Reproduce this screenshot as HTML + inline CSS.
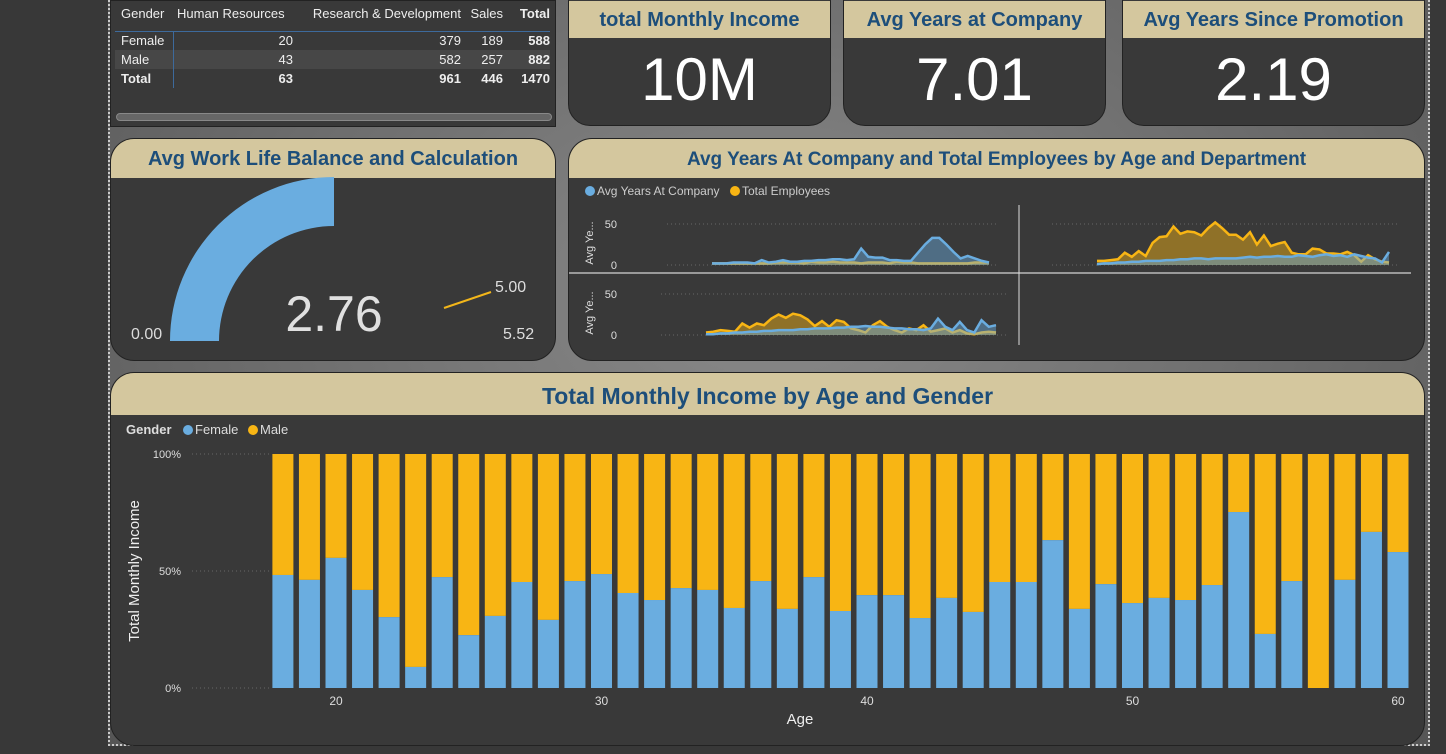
<!DOCTYPE html>
<html><head><meta charset="utf-8">
<style>
*{box-sizing:border-box;margin:0;padding:0}
body{width:1446px;height:754px;overflow:hidden;background:#383838;font-family:"Liberation Sans",sans-serif;position:relative}
#canvas{position:absolute;left:108px;top:0;width:1322px;height:746px;background:radial-gradient(ellipse at 50% 40%,#8a8a8a 0%,#6a6a6a 60%,#555 100%);border-left:2px dotted #ccc;border-right:2px dotted #ccc;border-bottom:2px dotted #ccc}
.card{position:absolute;background:#393939;border:1px solid #222;overflow:hidden}
.hdr{position:absolute;left:0;right:0;top:0;background:#d4c79e;color:#1d4e7a;font-weight:bold;text-align:center}
.kpi{border-radius:22px}
.kpi .hdr{height:37px;line-height:38px;font-size:20px}
.kpi .val{position:absolute;left:0;right:0;top:44px;text-align:center;color:#fff;font-size:60px}
table{border-collapse:collapse;color:#eee;font-size:13px}
td{white-space:nowrap}
</style></head><body>
<div id="canvas"></div>

<div class="card" style="left:110px;top:0;width:446px;height:127px;border-radius:0">
  <table style="position:absolute;left:4px;top:0px">
    <tr style="height:24px"><td style="padding:0 6px;width:58px">Gender</td><td style="width:120px;padding-left:4px">Human Resources</td><td style="width:168px;text-align:right">Research &amp; Development</td><td style="width:42px;text-align:right">Sales</td><td style="font-weight:bold;text-align:right;width:47px">Total</td></tr>
    <tr style="height:6px;border-bottom:1px solid #3d6a9c"><td colspan="5"></td></tr>
    <tr style="height:19px"><td style="padding:0 6px;border-right:1px solid #3d6a9c">Female</td><td style="text-align:right">20</td><td style="text-align:right">379</td><td style="text-align:right">189</td><td style="text-align:right;font-weight:bold">588</td></tr>
    <tr style="height:19px;background:#474747"><td style="padding:0 6px;border-right:1px solid #3d6a9c">Male</td><td style="text-align:right">43</td><td style="text-align:right">582</td><td style="text-align:right">257</td><td style="text-align:right;font-weight:bold">882</td></tr>
    <tr style="height:19px;font-weight:bold"><td style="padding:0 6px;border-right:1px solid #3d6a9c">Total</td><td style="text-align:right">63</td><td style="text-align:right">961</td><td style="text-align:right">446</td><td style="text-align:right">1470</td></tr>
  </table>
  <div style="position:absolute;left:5px;top:112px;width:436px;height:8px;border-radius:4px;background:#666;border:1px solid #888"></div>
</div>

<div class="card kpi" style="left:568px;top:-20px;width:263px;height:146px"><div class="hdr" style="top:20px">total Monthly Income</div><div class="val" style="top:64px">10M</div></div>
<div class="card kpi" style="left:843px;top:-20px;width:263px;height:146px"><div class="hdr" style="top:20px">Avg Years at Company</div><div class="val" style="top:64px">7.01</div></div>
<div class="card kpi" style="left:1122px;top:-20px;width:303px;height:146px"><div class="hdr" style="top:20px">Avg Years Since Promotion</div><div class="val" style="top:64px">2.19</div></div>

<div class="card" style="left:110px;top:138px;width:446px;height:223px;border-radius:24px">
  <div class="hdr" style="height:39px;line-height:41px;font-size:20px">Avg Work Life Balance and Calculation</div>
  <svg width="446" height="223" style="position:absolute;left:0;top:0">
    <path d="M59,202 A164,164 0 0 1 223,38 L223,87 A115,115 0 0 0 108,202 Z" fill="#6aade0"/>
    <line x1="333" y1="169" x2="380" y2="153" stroke="#f2b61a" stroke-width="2"/>
    <text x="223" y="192" fill="#e0e0e0" font-size="50" text-anchor="middle" font-family="Liberation Sans">2.76</text>
    <text x="20" y="200" fill="#ddd" font-size="16">0.00</text>
    <text x="384" y="153" fill="#ddd" font-size="16">5.00</text>
    <text x="392" y="200" fill="#ddd" font-size="16">5.52</text>
  </svg>
</div>

<div class="card" style="left:568px;top:138px;width:857px;height:223px;border-radius:24px">
  <div class="hdr" style="height:39px;line-height:42px;font-size:19px">Avg Years At Company and Total Employees by Age and Department</div>
  <svg id="area" width="857" height="223" style="position:absolute;left:0;top:0"></svg>
</div>

<div class="card" style="left:110px;top:372px;width:1315px;height:374px;border-radius:24px">
  <div class="hdr" style="height:42px;line-height:46px;font-size:23px">Total Monthly Income by Age and Gender</div>
</div>
<svg id="bars" width="1446" height="754" style="position:absolute;left:0;top:0"></svg>

<script>
// ===== Bar chart data =====
const ages = [];
for (let a = 18; a <= 60; a++) ages.push(a);
const femalePct = [48.3,46.2,55.6,41.9,30.3,9.0,47.4,22.6,30.8,45.3,29.1,45.7,48.7,40.6,37.6,42.7,41.9,34.2,45.7,33.8,47.4,32.9,39.7,39.7,29.9,38.5,32.5,45.3,45.3,63.2,33.8,44.4,36.3,38.5,37.6,44.0,75.2,23.1,45.7,0,46.2,66.7,58.1];
const xTicks = [20,30,40,50,60];
const yTicks = [0,50,100];

// ===== Area chart data (3 departments) =====
const hrYears = [2,2,2,3,3,3,2,6,3,4,6,4,4,5,5,6,6,7,7,6,7,20,10,9,9,6,6,5,5,15,25,33,33,25,16,8,11,8,5,3];
const hrEmp = [2,2,2,2,2,2,2,2,2,3,3,3,3,2,4,3,3,4,3,3,3,2,3,3,3,2,4,3,3,2,2,2,2,2,2,2,2,3,3,3];
const rdYears = [1,2,2,3,3,4,4,5,5,5,6,6,7,7,8,8,7,8,8,8,8,9,10,9,10,10,11,10,10,12,11,10,12,13,11,12,10,13,11,9,8,3,16];
const rdEmp = [5,5,6,7,15,10,17,11,27,34,35,47,38,41,40,36,45,52,45,37,37,31,40,25,36,23,26,28,15,13,13,20,19,14,14,13,16,12,4,12,7,4,3];
const saYears = [1,1,2,2,3,3,4,4,5,5,6,6,6,7,7,8,8,8,9,9,10,10,11,10,10,9,8,8,7,7,6,8,20,10,6,16,6,3,18,10,12];
const saEmp = [3,4,6,5,4,14,9,14,12,20,25,21,26,24,19,11,17,10,18,16,8,6,3,12,17,10,6,3,8,6,12,4,6,8,3,6,2,1,3,4,3];

const NS = 'http://www.w3.org/2000/svg';
function mk(svg, tag, attrs) {
  const e = document.createElementNS(NS, tag);
  for (const k in attrs) e.setAttribute(k, attrs[k]);
  svg.appendChild(e);
  return e;
}

// ----- Bars -----
const bs = document.getElementById('bars');
const xPos = a => 336 + (a - 20) * 26.55;
const yPos = p => 688 - p * 2.34;
let t;
t = mk(bs, 'text', {x: 126, y: 434, fill: '#ddd', 'font-size': 13, 'font-weight': 'bold'}); t.textContent = 'Gender';
 
let c = mk(bs, 'circle', {cx: 188, cy: 430, r: 5, fill: '#6aade0'});
 
t = mk(bs, 'text', {x: 195, y: 434, fill: '#ddd', 'font-size': 13}); t.textContent = 'Female';
 
c = mk(bs, 'circle', {cx: 253, cy: 430, r: 5, fill: '#f8b514'});
 
t = mk(bs, 'text', {x: 260, y: 434, fill: '#ddd', 'font-size': 13}); t.textContent = 'Male';
 
yTicks.forEach(v => {
  const l = mk(bs, 'line', {x1: 192, x2: 270, y1: yPos(v), y2: yPos(v), stroke: '#666', 'stroke-dasharray': '1,3'});
   
  const tt = mk(bs, 'text', {x: 181, y: yPos(v) + 4, fill: '#ddd', 'font-size': 11, 'text-anchor': 'end'});
  tt.textContent = v + '%';
   
});
t = mk(bs, 'text', {x: 0, y: 0, fill: '#eee', 'font-size': 15, 'text-anchor': 'middle', transform: 'translate(139,571) rotate(-90)'});
t.textContent = 'Total Monthly Income';
 
ages.forEach((a, i) => {
  const x = xPos(a) - 10.5, f = femalePct[i];
  const m = mk(bs, 'rect', {x: x, y: yPos(100), width: 21, height: yPos(f) - yPos(100), fill: '#f8b514'});
   
  const fr = mk(bs, 'rect', {x: x, y: yPos(f), width: 21, height: yPos(0) - yPos(f), fill: '#6aade0'});
   
});
xTicks.forEach(v => {
  const tt = mk(bs, 'text', {x: xPos(v), y: 705, fill: '#ddd', 'font-size': 12, 'text-anchor': 'middle'});
  tt.textContent = v;
   
});
t = mk(bs, 'text', {x: 800, y: 724, fill: '#eee', 'font-size': 15, 'text-anchor': 'middle'}); t.textContent = 'Age';
 

// ----- Area small multiples -----
const as = document.getElementById('area');
c = mk(as, 'circle', {cx: 21, cy: 52, r: 5, fill: '#6aade0'});
 
t = mk(as, 'text', {x: 28, y: 56, fill: '#ccc', 'font-size': 12}); t.textContent = 'Avg Years At Company';
 
c = mk(as, 'circle', {cx: 166, cy: 52, r: 5, fill: '#f8b514'});
 
t = mk(as, 'text', {x: 173, y: 56, fill: '#ccc', 'font-size': 12}); t.textContent = 'Total Employees';
 
let ln = mk(as, 'line', {x1: 0, x2: 842, y1: 134, y2: 134, stroke: '#bbb', 'stroke-width': 1.5});
 
ln = mk(as, 'line', {x1: 450, x2: 450, y1: 66, y2: 206, stroke: '#ddd', 'stroke-width': 1});
 

function panel(name, x0, x1, y0, yearsArr, empArr, showAxis) {
  const sy = v => y0 - v * 0.82;
  if (showAxis) {
    [0, 50].forEach(v => {
      const tt = mk(as, 'text', {x: 48, y: sy(v) + 4, fill: '#ddd', 'font-size': 11, 'text-anchor': 'end'});
      tt.textContent = v;
       
    });
    const at = mk(as, 'text', {x: 0, y: 0, fill: '#ddd', 'font-size': 11, 'text-anchor': 'middle', transform: 'translate(24,' + (y0 - 22) + ') rotate(-90)'});
    at.textContent = 'Avg Ye...';
     
  }
  [0, 50].forEach(v => {
    const g = mk(as, 'line', {x1: x0 - 45, x2: x1 + 10, y1: sy(v), y2: sy(v), stroke: '#666', 'stroke-dasharray': '1,3'});
     
  });
  [[empArr, '#f8b514', 'employees'], [yearsArr, '#6aade0', 'years']].forEach(([arr, col, lab]) => {
    const n = arr.length;
    const px = i => x0 + (x1 - x0) * i / (n - 1);
    let d = '';
    arr.forEach((v, i) => d += (i ? 'L' : 'M') + px(i).toFixed(1) + ',' + sy(v).toFixed(1));
    const ar = mk(as, 'path', {d: d + 'L' + x1 + ',' + y0 + 'L' + x0 + ',' + y0 + 'Z', fill: col, 'fill-opacity': 0.45});
     
    const lp = mk(as, 'path', {d: d, fill: 'none', stroke: col, 'stroke-width': 2.5});
     
  });
}
panel('hr-panel', 143, 420, 126, hrYears, hrEmp, true);
panel('rd-panel', 528, 820, 126, rdYears, rdEmp, false);
panel('sales-panel', 137, 427, 196, saYears, saEmp, true);
</script>
</body></html>
